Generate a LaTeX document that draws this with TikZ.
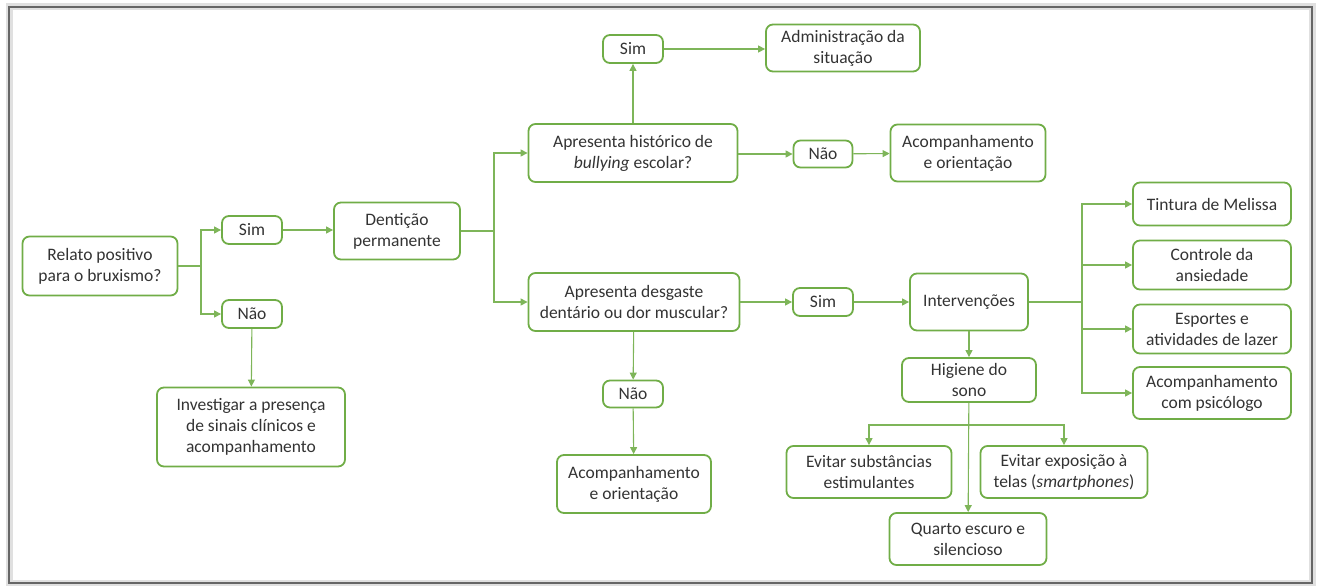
\documentclass[tikz,border=0pt]{standalone}
\usepackage{fontspec}
\setmainfont{Carlito}
\usetikzlibrary{arrows.meta}
\definecolor{leaf}{HTML}{70AD47}
\definecolor{inkgray}{HTML}{333333}

\begin{document}
\begin{tikzpicture}[x=1pt,y=-1pt,>={Triangle[length=7pt,width=7pt]},
  box/.style 2 args={draw=leaf,line width=1.8pt,rounded corners=7pt,align=center,inner sep=0pt,
    minimum width=#1pt,minimum height=#2pt,text=inkgray,font=\fontsize{17.5}{21}\selectfont},
  wire/.style={draw=leaf!90,line width=1.1pt},
  link/.style={wire,->}]
\useasboundingbox (0,0) rectangle (1318,586);
\draw[black!12,line width=7pt] (9,7) rectangle (1312,583);
\draw[black!60,line width=2pt] (9,7) rectangle (1312,583);

\node[box={155}{59}] (relato) at (100,266) {Relato positivo\\para o bruxismo?};
\node[box={60}{28}] (sim1) at (252,230) {Sim};
\node[box={60}{28}] (nao1) at (252,314) {Não};
\node[box={188}{79}] (investigar) at (251,427) {Investigar a presença\\de sinais clínicos e\\acompanhamento};
\node[box={126}{57}] (denticao) at (397,231) {Dentição\\permanente};
\node[box={209}{58}] (bullying) at (633,153) {Apresenta histórico de\\\textit{bullying} escolar?};
\node[box={60}{28}] (simA) at (633,49) {Sim};
\node[box={154}{47}] (admin) at (843,48) {Administração da\\situação};
\node[box={59}{27}] (naoA) at (823,154) {Não};
\node[box={155}{57}] (orientA) at (968,153) {Acompanhamento\\e orientação};
\node[box={211}{58}] (desgaste) at (634,302) {Apresenta desgaste\\dentário ou dor muscular?};
\node[box={60}{28}] (simB) at (823,302) {Sim};
\node[box={118}{57}] (interv) at (969,302) {Intervenções};
\node[box={60}{27}] (naoB) at (633,394) {Não};
\node[box={154}{58}] (orientB) at (634,484) {Acompanhamento\\e orientação};
\node[box={134}{44}] (higiene) at (969,380) {Higiene do\\sono};
\node[box={165}{52}] (substancias) at (869,472) {Evitar substâncias\\estimulantes};
\node[box={167}{52}] (telas) at (1064,472) {Evitar exposição à\\telas (\textit{smartphones})};
\node[box={157}{52}] (quarto) at (968,539) {Quarto escuro e\\silencioso};
\node[box={158}{43}] (melissa) at (1212,204) {Tintura de Melissa};
\node[box={158}{49}] (ansiedade) at (1212,265) {Controle da\\ansiedade};
\node[box={158}{49}] (lazer) at (1212,329) {Esportes e\\atividades de lazer};
\node[box={158}{52}] (psicologo) at (1212,393) {Acompanhamento\\com psicólogo};

% first split
\coordinate (f1) at (201,266);
\draw[wire] (relato) -- (f1);
\draw[link] (f1) |- (sim1);
\draw[link] (f1) |- (nao1);
\draw[link] (sim1) -- (sim1 -| denticao.west);
\draw[link] (nao1) -- (investigar);
% dentition split
\coordinate (f2) at (494,231);
\draw[wire] (denticao) -- (f2);
\draw[link] (f2) |- (bullying);
\draw[link] (f2) |- (desgaste);
\draw[link] (bullying) -- (simA);
\draw[link] (simA) -- (simA -| admin.west);
\draw[link] (naoA -| bullying.east) -- (naoA);
\draw[link] (naoA) -- (orientA);
\draw[link] (desgaste) -- (simB);
\draw[link] (simB) -- (interv);
\draw[link] (desgaste) -- (naoB);
\draw[link] (naoB) -- (orientB);
% interventions
\coordinate (f3) at (1082,302);
\draw[wire] (interv) -- (f3);
\foreach \n in {melissa,ansiedade,lazer,psicologo}
  \draw[link] (f3) |- (\n);
\draw[link] (interv) -- (higiene);
\draw[link] (higiene) -- (quarto);
\coordinate (f4) at (969,425);
\draw[link] (f4) -| (substancias);
\draw[link] (f4) -| (telas);
\end{tikzpicture}
\end{document}
